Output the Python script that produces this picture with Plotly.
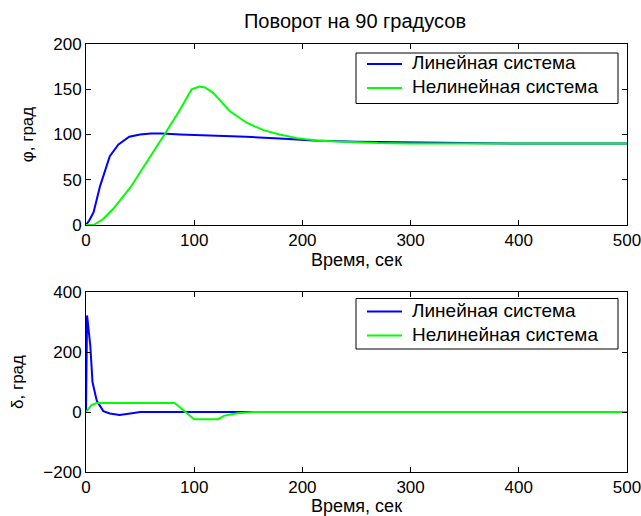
import plotly.graph_objects as go

# ---- data ----
t_phi_lin = [0, 3, 7, 13, 22, 30, 40, 50, 60, 70, 87, 117, 148, 179, 210, 250, 300, 350, 400, 500]
phi_lin = [0, 5, 14, 43, 76, 89, 97.5, 100, 101, 101, 100, 99, 97.5, 95.5, 93.5, 92, 91, 90.5, 90, 90]

t_phi_nl = [0, 7, 16, 25, 41, 56, 71.5, 87, 97.6, 105, 110, 117.6, 125, 133, 148.5, 164, 179, 195, 215, 240, 270, 300, 500]
phi_nl = [0, 0, 6.6, 17.6, 41.5, 69, 98, 127.5, 150, 153, 152, 146, 136, 125.6, 113, 104.8, 100, 96, 93, 91.5, 90.5, 90, 90]

t_del_lin = [0, 1, 4, 6, 10, 16, 22, 31, 41, 50, 60, 500]
del_lin = [0, 322, 220, 100, 37, 3, -5, -10, -5, 0, 0, 0]

t_del_nl = [0, 5, 10, 82, 100, 122, 128, 140, 155, 500]
del_nl = [0, 23, 30, 30, -24, -24, -12, -4, 0, 0]

x_ticks = [0, 100, 200, 300, 400, 500]
phi_ticks = [0, 50, 100, 150, 200]
del_ticks = [-200, 0, 200, 400]

names = ["Линейная система", "Нелинейная система"]
colors = ["#0000ff", "#00ff00"]
FONT = "Liberation Sans, Arial, sans-serif"

W, H = 641, 516
ML, MR, MT, MB = 86, 14, 44, 44


def px(x):
    return (x - ML) / (W - ML - MR)


def py(y):
    return (H - MB - y) / (H - MT - MB)


fig = go.Figure()
fig.add_trace(go.Scatter(x=t_phi_lin, y=phi_lin, mode="lines", name=names[0],
                         line=dict(color=colors[0], width=2), xaxis="x", yaxis="y"))
fig.add_trace(go.Scatter(x=t_phi_nl, y=phi_nl, mode="lines", name=names[1],
                         line=dict(color=colors[1], width=2), xaxis="x", yaxis="y"))
fig.add_trace(go.Scatter(x=t_del_lin, y=del_lin, mode="lines", name=names[0],
                         line=dict(color=colors[0], width=2), xaxis="x2", yaxis="y2"))
fig.add_trace(go.Scatter(x=t_del_nl, y=del_nl, mode="lines", name=names[1],
                         line=dict(color=colors[1], width=2), xaxis="x2", yaxis="y2"))

# legend boxes drawn manually (MATLAB style)
shapes = []
annotations = []
for box_top, rows in [(53, (64, 88)), (298.5, (311.5, 335.5))]:
    box_bottom = box_top + 50.5
    shapes.append(dict(type="rect", xref="paper", yref="paper",
                       x0=px(356), x1=px(618), y0=py(box_bottom), y1=py(box_top),
                       line=dict(color="black", width=1), fillcolor="white", layer="above"))
    for name, color, ry in zip(names, colors, rows):
        shapes.append(dict(type="line", xref="paper", yref="paper",
                           x0=px(367), x1=px(402), y0=py(ry), y1=py(ry),
                           line=dict(color=color, width=2), layer="above"))
        annotations.append(dict(text=name, xref="paper", yref="paper",
                                x=px(410), y=py(ry - 1.5), xanchor="left", yanchor="middle",
                                showarrow=False, font=dict(size=19, color="black", family=FONT)))

axis_common = dict(showline=True, linecolor="black", linewidth=1, mirror="ticks",
                   ticks="inside", ticklen=5, tickcolor="black", showgrid=False,
                   zeroline=False, automargin=False, ticklabeloverflow="allow",
                   tickfont=dict(size=17, color="black", family=FONT))

fig.update_layout(
    width=W, height=H,
    margin=dict(l=ML, r=MR, t=MT, b=MB, autoexpand=False),
    paper_bgcolor="white", plot_bgcolor="white",
    showlegend=False,
    font=dict(family=FONT, size=17, color="black"),
    title=dict(text="Поворот на 90 градусов", x=355 / W, xanchor="center",
               y=1 - 21 / H, yanchor="middle", font=dict(size=20)),
    xaxis=dict(domain=[0, 1], anchor="y", range=[0, 500], tickvals=x_ticks,
               title=dict(text="Время, сек", standoff=2, font=dict(size=18)), **axis_common),
    yaxis=dict(domain=[py(225), 1], anchor="x", range=[0, 200], tickvals=phi_ticks,
               title=dict(text="φ, град", standoff=15, font=dict(size=17)), **axis_common),
    xaxis2=dict(domain=[0, 1], anchor="y2", range=[0, 500], tickvals=x_ticks,
                title=dict(text="Время, сек", standoff=2, font=dict(size=18)), **axis_common),
    yaxis2=dict(domain=[0, py(292)], anchor="x2", range=[-200, 400], tickvals=del_ticks,
                title=dict(text="δ, град", standoff=15, font=dict(size=17)), **axis_common),
    shapes=shapes,
    annotations=annotations,
)

fig.write_html("out.html", config={"displayModeBar": False},
               post_script="document.body.style.margin='0px';document.body.style.padding='0px';")
